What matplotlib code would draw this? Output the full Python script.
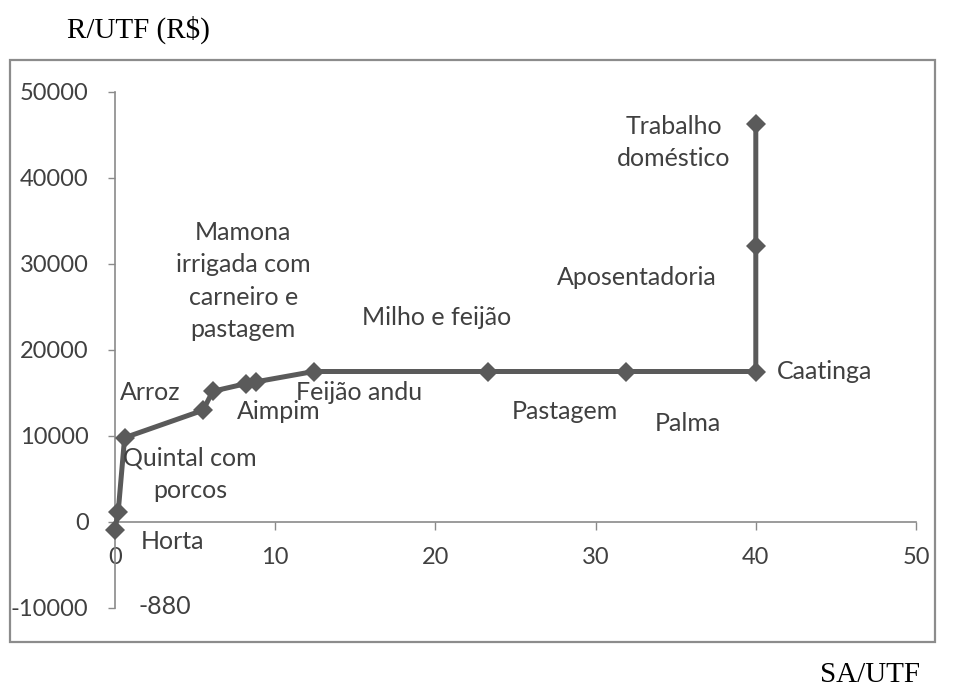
import matplotlib.pyplot as plt
from matplotlib.patches import Rectangle

# dados
sa_utf = [0, 0.2, 0.6, 5.5, 6.1, 8.2, 8.8, 12.4, 23.3, 31.9, 40, 40, 40]
r_utf = [-880, 1200, 9800, 13000, 15200, 16100, 16300, 17500, 17500, 17500, 17500, 32100, 46300]

rotulos = ["Horta", "-880", "Quintal com\nporcos", "Arroz",
           "Mamona\nirrigada com\ncarneiro e\npastagem", "Aimpim", "Feijão andu",
           "Milho e feijão", "Pastagem", "Palma", "Caatinga", "Aposentadoria",
           "Trabalho\ndoméstico"]
# posição (dados) de cada rótulo
rot_x = [3.6, 3.1, 4.7, 2.2, 8.0, 10.25, 11.3, 20.1, 28.1, 35.75, 41.3, 32.6, 34.9]
rot_y = [-2300, -9800, 5600, 15000, 28000, 12800, 15000, 23800, 12800, 11400, 17500, 28400, 44100]
rot_ha = ["center", "center", "center", "center", "center", "center", "left",
          "center", "center", "center", "left", "center", "center"]

x_ticks = [0, 10, 20, 30, 40, 50]
y_ticks = [-10000, 0, 10000, 20000, 30000, 40000, 50000]

W, H = 961, 690
fig = plt.figure(figsize=(W / 100, H / 100), dpi=100)
fig.patch.set_facecolor("white")

# moldura externa
fig.patches.append(Rectangle((10 / W, 1 - 642 / H), 925 / W, 582 / H, transform=fig.transFigure,
                             fill=False, edgecolor="#8c8c8c", linewidth=1.6))

ax = fig.add_axes([115 / W, 1 - 608 / H, (916 - 115) / W, (608 - 92) / H])
fonte = "Lato"
cor_txt = "#404040"
cor_eixo = "#8a8a8a"

ax.plot(sa_utf, r_utf, color="#5a5a5a", linewidth=3.6, marker="D", markersize=10.5,
        markeredgewidth=0, markerfacecolor="#5a5a5a", zorder=3, clip_on=False)

for t, x, y, ha in zip(rotulos, rot_x, rot_y, rot_ha):
    ax.text(x, y, t, ha=ha, va="center", fontsize=18, family=fonte, color=cor_txt,
            linespacing=1.5)

ax.set_xlim(0, 50)
ax.set_ylim(-10000, 50000)
ax.set_xticks(x_ticks)
ax.set_yticks(y_ticks)
ax.set_xticklabels([str(v) for v in x_ticks])
ax.set_yticklabels([str(v) for v in y_ticks])

for s in ["top", "right"]:
    ax.spines[s].set_visible(False)
ax.spines["bottom"].set_position(("data", 0))
for s in ["left", "bottom"]:
    ax.spines[s].set_color(cor_eixo)
    ax.spines[s].set_linewidth(1.2)

ax.tick_params(axis="x", direction="out", length=6, width=1, color=cor_eixo, pad=12,
               labelsize=17, labelcolor=cor_txt)
ax.tick_params(axis="y", direction="out", length=5, width=1, color=cor_eixo, pad=14,
               labelsize=17, labelcolor=cor_txt)
for lab in ax.get_xticklabels() + ax.get_yticklabels():
    lab.set_family(fonte)
ax.patch.set_alpha(0)

fig.text(67 / W, 1 - 30 / H, "R/UTF (R$)", family="Liberation Serif", fontsize=21,
         ha="left", va="center", color="black")
fig.text(920 / W, 1 - 675 / H, "SA/UTF", family="Liberation Serif", fontsize=21,
         ha="right", va="center", color="black")

fig.savefig("out.png", dpi=100)
